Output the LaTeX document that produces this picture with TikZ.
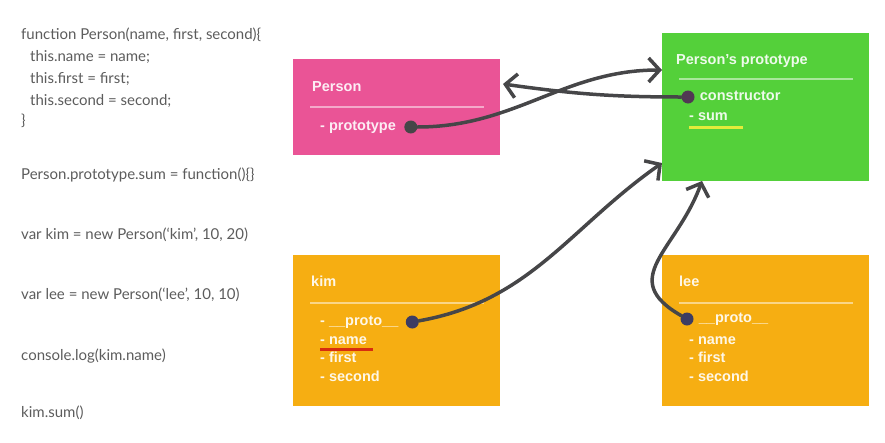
\documentclass[tikz,border=0pt]{standalone}
\usepackage{fontspec}
\setmainfont{Liberation Sans}
\newfontfamily\codefont{Lato}
\usetikzlibrary{positioning,calc}
\usetikzlibrary{arrows.meta}
\definecolor{boxPink}{RGB}{234,84,150}
\definecolor{boxGreen}{RGB}{84,208,58}
\definecolor{boxOrange}{RGB}{246,174,18}
\definecolor{linkGray}{RGB}{70,70,72}
\definecolor{codeGray}{RGB}{92,92,92}
\definecolor{markRed}{RGB}{215,45,15}
\definecolor{markYellow}{RGB}{228,236,58}
\tikzset{%
  % Specifications for style of nodes:
    >={Straight Barb[length=11pt,width=24pt]},
    codeLine/.style = {anchor=west, inner sep=0, text=codeGray, font=\codefont\fontsize{15}{18}\selectfont, text height=11pt, text depth=3.5pt},
    objBox/.style = {rectangle, minimum width=207pt, inner sep=0, outer sep=0},
    personBox/.style = {objBox, fill=boxPink, minimum height=96pt},
    protoBox/.style = {objBox, fill=boxGreen, minimum height=148pt},
    instBox/.style = {objBox, fill=boxOrange, minimum height=151pt},
    boxText/.style = {anchor=west, inner sep=0, text=white, text opacity=0.9, font=\bfseries\fontsize{14.5}{17}\selectfont, text height=10.5pt, text depth=3pt},
    sepLine/.style = {line width=2pt, white, opacity=0.5},
    dot/.style = {circle, fill=linkGray, minimum size=13pt, inner sep=0},
    link/.style = {->, line width=3.5pt, linkGray, line cap=round},
}
\begin{document}
\begin{tikzpicture}[x=1pt,y=1pt]
	\useasboundingbox (0,0) rectangle (885,-442);

	% code
	\node [codeLine] (codeHead) at (21,-36) {function Person(name, first, second)\{};
	\node [codeLine] (codeName) at (30,-58) {this.name = name;};
	\node [codeLine] (codeFirst) at (30,-80) {this.first = first;};
	\node [codeLine] (codeSecond) at (30,-102) {this.second = second;};
	\node [codeLine] (codeEnd) at (21,-122) {\}};
	\node [codeLine] (codeSum) at (21,-176) {Person.prototype.sum = function()\{\}};
	\node [codeLine] (codeKim) at (21,-236) {var kim = new Person(‘kim’, 10, 20)};
	\node [codeLine] (codeLee) at (21,-296) {var lee = new Person(‘lee’, 10, 10)};
	\node [codeLine] (codeLog) at (21,-357) {console.log(kim.name)};
	\node [codeLine] (codeCall) at (21,-414) {kim.sum()};

	% objects
	\node [personBox] (person) at (396.5,-107) {};
	\node [protoBox, right=162pt of person] (personProto) {};
	\node [instBox, below=100pt of person] (kim) {};
	\node [instBox, right=162pt of kim] (lee) {};

	\node [boxText] (personTitle) at ([shift={(19,-29)}]person.north west) {Person};
	\draw [sepLine] ([shift={(17,-48)}]person.north west) -- ([shift={(-16,-48)}]person.north east);
	\node [boxText] (protoField) at ([shift={(27,-68)}]person.north west) {- prototype};
	\node [dot, right=8pt of protoField] (protoDot) {};

	\node [boxText] (protoTitle) at ([shift={(14,-28)}]personProto.north west) {Person’s prototype};
	\draw [sepLine] ([shift={(17,-46)}]personProto.north west) -- ([shift={(-16,-46)}]personProto.north east);
	\node [dot, fill=linkGray!80!violet] (ctorDot) at ([shift={(26,-64)}]personProto.north west) {};
	\node [boxText, right=5pt of ctorDot] (ctorField) {constructor};
	\node [boxText] (sumField) at ([shift={(27,-84)}]personProto.north west) {- sum};

	\node [boxText] (kimTitle) at ([shift={(18,-28)}]kim.north west) {kim};
	\draw [sepLine] ([shift={(17,-48)}]kim.north west) -- ([shift={(-16,-48)}]kim.north east);
	\node [boxText] (kimProto) at ([shift={(27,-67)}]kim.north west) {- \_\_proto\_\_};
	\node [dot, fill=linkGray!85!blue, right=7pt of kimProto] (kimDot) {};
	\node [boxText] (kimName) at ([shift={(27,-86)}]kim.north west) {- name};
	\node [boxText] (kimFirst) at ([shift={(27,-104)}]kim.north west) {- first};
	\node [boxText] (kimSecond) at ([shift={(27,-123)}]kim.north west) {- second};

	\node [boxText] (leeTitle) at ([shift={(17,-28)}]lee.north west) {lee};
	\draw [sepLine] ([shift={(17,-48)}]lee.north west) -- ([shift={(-16,-48)}]lee.north east);
	\node [dot, fill=linkGray!85!blue] (leeDot) at ([shift={(25,-64)}]lee.north west) {};
	\node [boxText, right=5pt of leeDot] (leeProto) {\_\_proto\_\_};
	\node [boxText] (leeName) at ([shift={(27,-86)}]lee.north west) {- name};
	\node [boxText] (leeFirst) at ([shift={(27,-104)}]lee.north west) {- first};
	\node [boxText] (leeSecond) at ([shift={(27,-123)}]lee.north west) {- second};

	% marks
	\draw [markRed, line width=3pt] ([yshift=-2pt]kimName.south west) -- ([shift={(6,-2)}]kimName.south east);
	\draw [markYellow, line width=3pt] ([yshift=-4pt]sumField.south west) -- ([shift={(15,-4)}]sumField.south east);

	% links
	\coordinate (protoIn) at ([yshift=-37pt]personProto.north west);
	\coordinate (personIn) at ([shift={(3,23)}]person.east);
	\coordinate (kimIn) at ([yshift=18pt]personProto.south west);
	\coordinate (leeIn) at ([xshift=40pt]personProto.south west);

	\draw [link] (protoDot) to[out=0,in=180] (protoIn);
	\draw [link] (ctorDot) to[out=180,in=-8] (personIn);
	\draw [link] (kimDot) to[out=10,in=215] (kimIn);
	\draw [link] (leeDot) to[out=150,in=250,looseness=1.4] (leeIn);

\end{tikzpicture}
\end{document}
